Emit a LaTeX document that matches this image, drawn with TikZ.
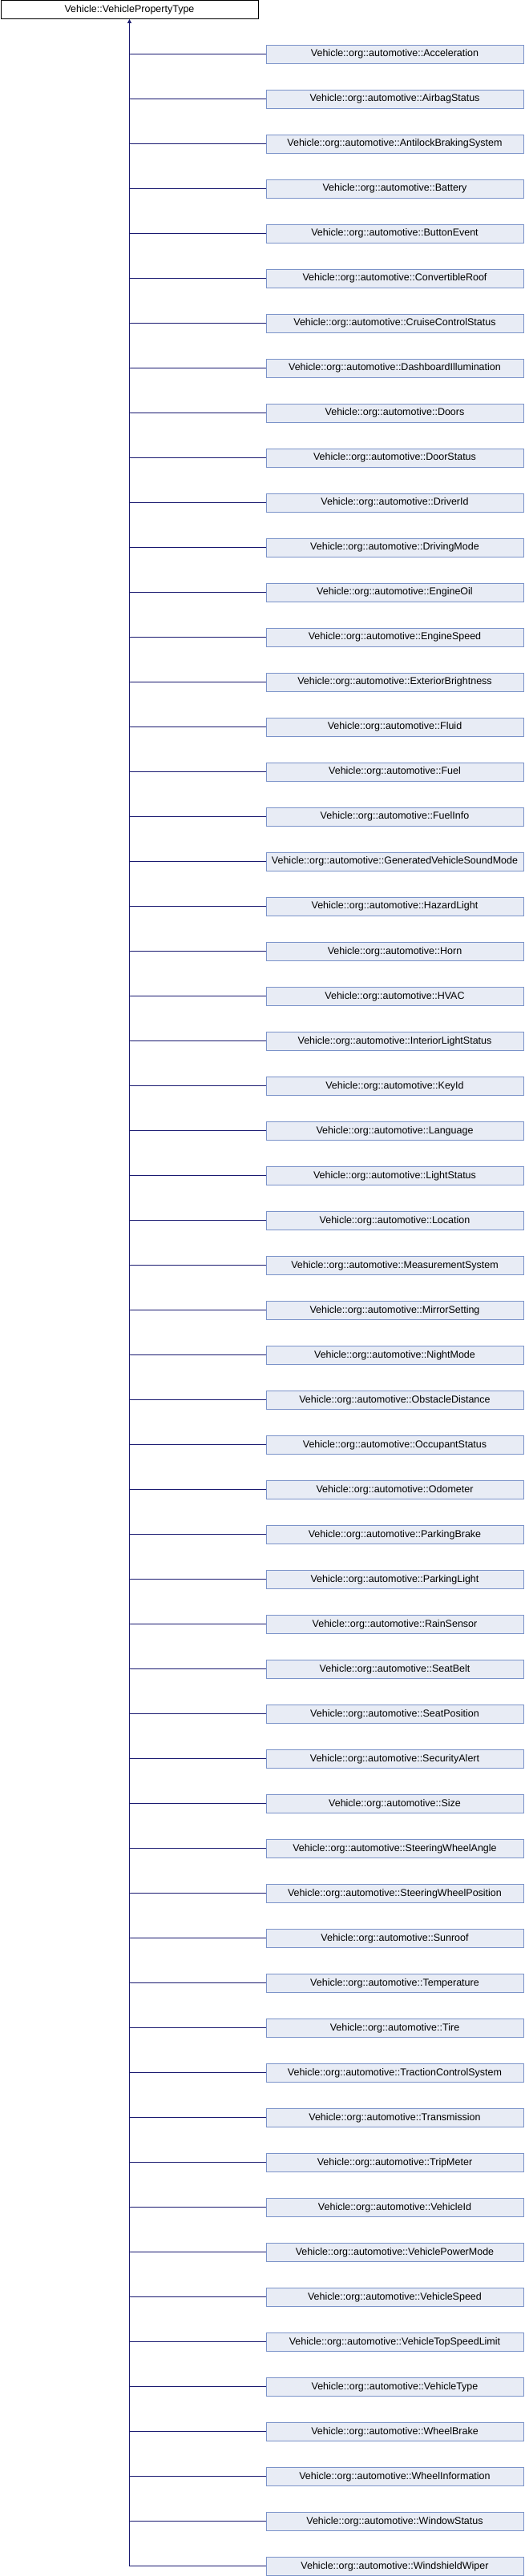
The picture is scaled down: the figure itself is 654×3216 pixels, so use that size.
\documentclass[tikz,border=0pt]{standalone}
\usepackage{fontspec}
\setmainfont{Liberation Sans}
\usetikzlibrary{arrows.meta}
\definecolor{childfill}{HTML}{E8ECF5}
\definecolor{childdraw}{HTML}{7B93C9}
\definecolor{edgecol}{HTML}{191970}
\tikzset{
  base/.style={draw=black, fill=white, line width=0.9pt, minimum width=321pt, minimum height=23pt, inner sep=0pt, font=\fontsize{12.5}{14}\selectfont},
  child/.style={draw=childdraw, fill=childfill, line width=0.9pt, minimum width=321pt, minimum height=23pt, inner sep=0pt, font=\fontsize{12.5}{14}\selectfont},
  edge/.style={draw=edgecol, line width=0.9pt},
}
\begin{document}
\begin{tikzpicture}[x=1pt,y=1pt]
\useasboundingbox (0,0) rectangle (654,-3216);
\node[base] (root) at (161.5,-12) {Vehicle::VehiclePropertyType};
\coordinate (bus) at (161.5,-3204);
\foreach [count=\i from 0] \n in {Acceleration,AirbagStatus,AntilockBrakingSystem,Battery,ButtonEvent,ConvertibleRoof,CruiseControlStatus,DashboardIllumination,Doors,DoorStatus,DriverId,DrivingMode,EngineOil,EngineSpeed,ExteriorBrightness,Fluid,Fuel,FuelInfo,GeneratedVehicleSoundMode,HazardLight,Horn,HVAC,InteriorLightStatus,KeyId,Language,LightStatus,Location,MeasurementSystem,MirrorSetting,NightMode,ObstacleDistance,OccupantStatus,Odometer,ParkingBrake,ParkingLight,RainSensor,SeatBelt,SeatPosition,SecurityAlert,Size,SteeringWheelAngle,SteeringWheelPosition,Sunroof,Temperature,Tire,TractionControlSystem,Transmission,TripMeter,VehicleId,VehiclePowerMode,VehicleSpeed,VehicleTopSpeedLimit,VehicleType,WheelBrake,WheelInformation,WindowStatus,WindshieldWiper} {
  \node[child] (c\i) at (492.5,{-67.75-56*\i}) {Vehicle::org::automotive::\n};
  \draw[edge] (root.south |- c\i.west) -- (c\i.west);
}
\draw[edge, -{Triangle[width=5pt,length=5pt]}] (bus) -- (root.south);
\end{tikzpicture}
\end{document}
